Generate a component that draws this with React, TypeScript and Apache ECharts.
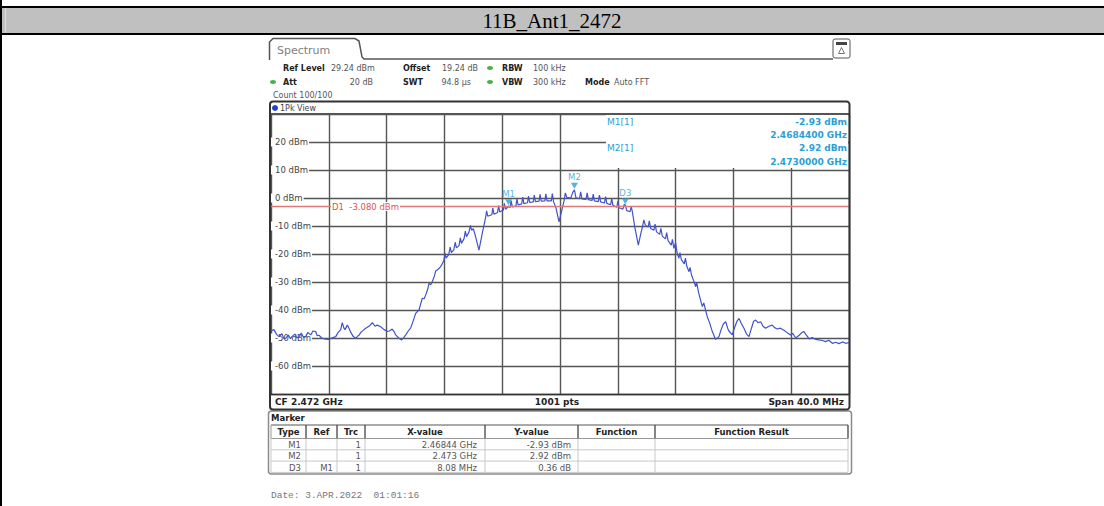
import React, { useEffect, useRef } from "react";
import * as echarts from "echarts";

// ---------- data ----------
const TITLE = "11B_Ant1_2472";
const CENTER_MHZ = 2472;
const SPAN_MHZ = 40;
const REF_TOP_DBM = 30;
const REF_BOTTOM_DBM = -70;
const Y_STEP_DBM = 10;
const X_STEP_MHZ = 4;
const DISPLAY_LINE_DBM = -3.08;
const DISPLAY_LINE_LABEL = "D1  -3.080 dBm";

// trace segments: [frequency MHz, level dBm]
const NOISE_LEFT: number[][] = [
  [2452.0, -47.5], [2452.2, -47.0], [2452.4, -48.8], [2452.55, -49.5], [2452.75, -48.5], [2452.9, -50.3],
  [2453.02, -50.1], [2453.2, -49.0], [2453.35, -50.2], [2453.45, -49.5], [2453.65, -48.6], [2453.8, -50.0],
  [2453.94, -49.6], [2454.1, -48.2], [2454.25, -49.8], [2454.4, -49.5], [2454.55, -48.0], [2454.75, -48.9],
  [2454.9, -47.5], [2455.09, -47.7], [2455.2, -49.2], [2455.32, -49.0], [2455.5, -50.0], [2455.79, -50.4],
  [2456.01, -50.5], [2456.2, -50.0], [2456.48, -49.5], [2456.65, -48.0], [2456.82, -47.1], [2456.93, -44.5],
  [2457.05, -46.5], [2457.12, -47.0], [2457.28, -45.4], [2457.4, -46.5], [2457.52, -48.0], [2457.7, -49.5],
  [2457.86, -50.1], [2458.0, -49.3], [2458.09, -49.0], [2458.25, -47.8], [2458.44, -47.0], [2458.66, -46.2],
  [2458.85, -45.5], [2459.01, -44.5], [2459.2, -45.8], [2459.36, -45.4], [2459.59, -46.0], [2459.82, -47.0],
  [2460.05, -47.6], [2460.2, -47.5], [2460.39, -46.8], [2460.55, -48.0], [2460.63, -48.9], [2460.86, -50.1],
  [2461.04, -50.7], [2461.2, -49.8], [2461.32, -48.9], [2461.5, -47.5], [2461.67, -46.4],
];
const RISING_EDGE: number[][] = [
  [2461.8, -44.5], [2461.9, -43.0], [2462.01, -41.2], [2462.24, -40.0], [2462.35, -38.0], [2462.47, -35.8],
  [2462.6, -36.0], [2462.71, -34.6], [2462.85, -32.5], [2462.93, -30.5], [2463.05, -31.0], [2463.16, -29.9],
  [2463.3, -28.0], [2463.4, -26.0], [2463.51, -25.7], [2463.62, -25.2], [2463.74, -24.5], [2463.85, -23.5],
  [2463.97, -22.2], [2464.05, -19.8], [2464.12, -21.5], [2464.3, -20.2], [2464.4, -17.5], [2464.48, -19.5],
  [2464.65, -18.5], [2464.75, -15.8], [2464.83, -17.8], [2465.01, -17.0], [2465.1, -14.2], [2465.18, -16.2],
  [2465.36, -14.5], [2465.45, -11.8], [2465.53, -13.8], [2465.7, -12.2], [2465.8, -9.8], [2465.88, -11.5],
  [2466.0, -11.0], [2466.12, -13.0], [2466.39, -18.6], [2466.55, -14.5],
];
const MAIN_LOBE: number[][] = [
  [2466.62, -12.6], [2466.85, -7.0], [2466.92, -4.6], [2467.0, -6.5], [2467.28, -6.0], [2467.35, -3.6],
  [2467.43, -5.8], [2467.68, -5.2], [2467.75, -2.7], [2467.83, -5.0], [2468.08, -4.3], [2468.15, -1.9],
  [2468.23, -4.0], [2468.44, -2.93], [2468.55, -3.4], [2468.62, -0.9], [2468.7, -3.2], [2468.95, -2.8],
  [2469.02, -0.3], [2469.1, -2.5], [2469.35, -2.1], [2469.42, 0.3], [2469.5, -2.0], [2469.75, -1.7],
  [2469.82, 0.7], [2469.9, -1.6], [2470.15, -1.4], [2470.22, 1.0], [2470.3, -1.3], [2470.55, -1.1],
  [2470.62, 1.3], [2470.7, -1.1], [2470.95, -1.0], [2471.02, 1.5], [2471.1, -1.0], [2471.4, -1.0],
  [2471.47, 1.6], [2471.55, -1.3], [2471.72, -3.5], [2471.93, -8.5], [2472.12, -4.5], [2472.28, -1.0],
  [2472.37, 1.8], [2472.47, 0.2], [2472.75, 0.0], [2472.88, 2.0], [2473.0, 2.92], [2473.1, 0.1],
  [2473.35, -0.2], [2473.43, 2.2], [2473.52, -0.3], [2473.8, -0.5], [2473.88, 1.8], [2473.96, -0.6],
  [2474.22, -0.9], [2474.3, 1.4], [2474.38, -1.0], [2474.65, -1.3], [2474.73, 1.0], [2474.81, -1.4],
  [2475.08, -1.8], [2475.16, 0.5], [2475.24, -1.9], [2475.5, -2.4], [2475.58, -0.2], [2475.66, -2.6],
  [2475.93, -3.3], [2476.01, -1.0], [2476.09, -3.5], [2476.35, -4.0], [2476.45, -2.2], [2476.52, -2.57],
  [2476.62, -4.5], [2476.85, -4.9], [2476.93, -3.0], [2477.01, -5.0], [2477.18, -10.5], [2477.42, -16.8],
  [2477.58, -13.0], [2477.72, -10.0], [2477.8, -7.8], [2477.9, -9.6], [2478.1, -10.4], [2478.18, -8.2],
  [2478.28, -10.9], [2478.5, -11.5], [2478.58, -9.3], [2478.68, -12.1], [2478.9, -13.0], [2478.98, -10.8],
  [2479.08, -13.6], [2479.3, -14.6], [2479.38, -12.4], [2479.48, -15.2], [2479.7, -16.8], [2479.78, -14.8],
  [2479.88, -18.0],
];
const FALLING_EDGE: number[][] = [
  [2480.0, -16.0], [2480.1, -19.5], [2480.23, -21.5], [2480.3, -19.5], [2480.4, -22.0], [2480.6, -23.5],
  [2480.68, -21.5], [2480.78, -24.5], [2480.93, -26.3], [2481.0, -24.8], [2481.1, -27.5], [2481.25, -29.5],
  [2481.39, -31.7], [2481.45, -30.0], [2481.6, -34.0], [2481.85, -38.8], [2481.95, -37.5], [2482.19, -42.4],
  [2482.35, -44.5], [2482.54, -47.7], [2482.77, -50.5],
];
const NOISE_RIGHT: number[][] = [
  [2483.0, -49.5], [2483.15, -47.0], [2483.3, -45.0], [2483.47, -44.2], [2483.6, -46.5], [2483.69, -47.5],
  [2483.92, -48.9], [2484.1, -46.0], [2484.25, -44.0], [2484.39, -43.0], [2484.55, -44.8], [2484.73, -46.5],
  [2484.9, -48.5], [2485.08, -49.5], [2485.25, -46.5], [2485.4, -44.0], [2485.54, -43.6], [2485.7, -44.5],
  [2485.89, -44.2], [2486.05, -45.8], [2486.23, -46.5], [2486.45, -45.8], [2486.69, -45.4], [2486.85, -46.3],
  [2487.04, -46.8], [2487.25, -46.5], [2487.5, -47.2], [2487.7, -48.0], [2487.96, -48.9], [2488.1, -48.3],
  [2488.31, -50.0], [2488.55, -49.0], [2488.75, -48.0], [2488.89, -47.7], [2489.05, -49.0], [2489.25, -50.3],
  [2489.46, -49.8], [2489.7, -50.5], [2489.92, -50.7], [2490.15, -50.9], [2490.39, -51.3], [2490.6, -50.8],
  [2490.85, -51.9], [2491.08, -51.5], [2491.3, -52.0], [2491.55, -51.4], [2491.77, -51.9], [2492.0, -51.6],
];

const MARKER_NAMES = ["M1", "M2", "D3"];
const MARKER_FREQ_MHZ = [2468.44, 2473.0, 2476.52];
const MARKER_LEVEL_DBM = [-2.93, 2.92, -2.57];

const HEADER_ROW1 = [
  ["Ref Level", "29.24 dBm"],
  ["Offset", "19.24 dB"],
  ["RBW", "100 kHz"],
];
const HEADER_ROW2 = [
  ["Att", "20 dB"],
  ["SWT", "94.8 µs"],
  ["VBW", "300 kHz"],
  ["Mode", "Auto FFT"],
];
const COUNT_TEXT = "Count 100/100";
const VIEW_TEXT = "1Pk View";
const INFO_LINES = [
  ["M1[1]", "-2.93 dBm"],
  ["", "2.4684400 GHz"],
  ["M2[1]", "2.92 dBm"],
  ["", "2.4730000 GHz"],
];
const FOOTER = ["CF 2.472 GHz", "1001 pts", "Span 40.0 MHz"];
const TABLE_HEADERS = ["Type", "Ref", "Trc", "X-value", "Y-value", "Function", "Function Result"];
const TABLE_ROWS = [
  ["M1", "", "1", "2.46844 GHz", "-2.93 dBm", "", ""],
  ["M2", "", "1", "2.473 GHz", "2.92 dBm", "", ""],
  ["D3", "M1", "1", "8.08 MHz", "0.36 dB", "", ""],
];
const DATE_TEXT = "Date: 3.APR.2022  01:01:16";

// ---------- layout ----------
const FONT = '"DejaVu Sans", sans-serif';
const MARK_COLOR = "#2a9fd6";
const TRACE_COLOR = "#4153cc";

function txt(x: number, y: number, text: string, o: any = {}) {
  return {
    type: "text",
    x,
    y,
    z: o.z ?? 30,
    silent: true,
    style: {
      text,
      fill: o.fill ?? "#555",
      font: `${o.bold ? "bold " : ""}${o.size ?? 8.5}px ${o.family ?? FONT}`,
      align: o.align ?? "left",
      verticalAlign: "middle",
    },
  };
}
function rect(x: number, y: number, w: number, h: number, style: any, z = 1, r: any = 0) {
  return { type: "rect", silent: true, z, shape: { x, y, width: w, height: h, r }, style };
}
function hline(x1: number, x2: number, y: number, stroke: string, lw = 1, z = 25) {
  return { type: "line", silent: true, z, shape: { x1, y1: y, x2, y2: y }, style: { stroke, lineWidth: lw } };
}
function vline(x: number, y1: number, y2: number, stroke: string, lw = 1, z = 25) {
  return { type: "line", silent: true, z, shape: { x1: x, y1, x2: x, y2 }, style: { stroke, lineWidth: lw } };
}

export default function App() {
  const ref = useRef<HTMLDivElement>(null);
  useEffect(() => {
    if (!ref.current) return;
    const chart = echarts.init(ref.current, null, { renderer: "svg" });
    const trace = [...NOISE_LEFT, ...RISING_EDGE, ...MAIN_LOBE, ...FALLING_EDGE, ...NOISE_RIGHT];
    const markers = MARKER_NAMES.map((n, i) => ({ name: n, value: [MARKER_FREQ_MHZ[i], MARKER_LEVEL_DBM[i]] }));

    const g: any[] = [];
    // document table
    g.push(rect(0, 0, 2, 506, { fill: "#000" }, 1));
    g.push(rect(0, 6, 1104, 2, { fill: "#000" }, 1));
    g.push(rect(2, 8, 1102, 25, { fill: "#c0c0c0" }, 1));
    g.push(rect(5, 8, 1, 25, { fill: "#dcdcdc" }, 2));
    g.push(rect(0, 33, 1104, 2, { fill: "#000" }, 1));
    g.push(txt(552, 21, TITLE, { size: 21, family: '"Liberation Serif", serif', fill: "#000", z: 3, align: "center" }));

    // spectrum tab
    g.push({
      type: "polyline", silent: true, z: 25,
      shape: { points: [[269.5, 60], [269.5, 42], [273, 38.5], [355, 38.5], [359, 41], [362, 57], [364, 59], [833, 59]] },
      style: { stroke: "#555", lineWidth: 1.5, fill: null },
    });
    g.push(txt(277, 50, "Spectrum", { size: 11, fill: "#808080" }));
    g.push(rect(833, 39, 17, 19, { fill: "#fff", stroke: "#555", lineWidth: 1 }, 25, 2));
    g.push(rect(836, 42, 11, 3, { fill: "#444" }, 26));
    g.push({
      type: "polygon", silent: true, z: 26,
      shape: { points: [[841.5, 47.5], [838.5, 53.5], [844.5, 53.5]] },
      style: { stroke: "#555", lineWidth: 0.8, fill: "#fff" },
    });

    // header settings
    const r1x = [[283, 331], [403, 442], [502, 533]];
    HEADER_ROW1.forEach((p, i) => {
      g.push(txt(r1x[i][0], 68, p[0], { bold: true, size: 8, fill: "#222" }));
      g.push(txt(r1x[i][1], 68, p[1], { size: 8 }));
    });
    const r2x = [[283, 373], [403, 471], [502, 533], [585, 614]];
    HEADER_ROW2.forEach((p, i) => {
      g.push(txt(r2x[i][0], 82, p[0], { bold: true, size: 8, fill: "#222" }));
      g.push(txt(r2x[i][1], 82, p[1], { size: 8, align: i < 2 ? "right" : "left" }));
    });
    [[490, 68], [490, 82], [273, 82]].forEach(([cx, cy]) =>
      g.push({ type: "ellipse", silent: true, z: 25, shape: { cx, cy, rx: 3, ry: 2 }, style: { fill: "#48b048" } })
    );
    g.push(txt(273, 95, COUNT_TEXT, { size: 8 }));

    // view frame
    g.push(rect(270, 101.5, 579.5, 308, { fill: null, stroke: "#333", lineWidth: 2 }, 40, 3));
    g.push(hline(270, 849, 113.5, "#555", 1));
    g.push({ type: "circle", silent: true, z: 30, shape: { cx: 275, cy: 108, r: 3 }, style: { fill: "#2040d0" } });
    g.push(txt(280, 108, VIEW_TEXT, { fill: "#444", size: 8 }));
    g.push(hline(270, 849, 394.5, "#333", 1.5));
    g.push(txt(275, 402, FOOTER[0], { bold: true, size: 9, fill: "#222" }));
    g.push(txt(557, 402, FOOTER[1], { bold: true, size: 9, fill: "#222", align: "center" }));
    g.push(txt(844, 402, FOOTER[2], { bold: true, size: 9, fill: "#222", align: "right" }));

    // marker info box
    g.push(rect(606, 115, 242, 53, { fill: "#fff" }, 10));
    INFO_LINES.forEach((l, i) => {
      const y = 122 + i * 13.2;
      if (l[0]) g.push(txt(607, y, l[0], { fill: MARK_COLOR, size: 9 }));
      g.push(txt(847, y, l[1], { fill: MARK_COLOR, size: 9, bold: true, align: "right" }));
    });

    // marker table
    g.push(rect(268.5, 411, 583, 63, { fill: "#fff", stroke: "#8a8a8a", lineWidth: 1.5 }, 5, 3));
    g.push(txt(271, 418, "Marker", { bold: true, size: 8.5, fill: "#222" }));
    const cols = [271, 306, 337, 365, 485, 578, 655, 848];
    g.push(hline(271, 848, 425, "#555", 1));
    g.push(hline(271, 848, 438.5, "#999", 1));
    cols.forEach((cx, i) => {
      g.push(vline(cx, 425, 438.5, i === 0 ? "#999" : "#444", i === 0 ? 1 : 1.3));
      g.push(vline(cx, 438.5, 472.5, "#c8c8c8", 1));
    });
    TABLE_HEADERS.forEach((h, i) => {
      g.push(txt((cols[i] + cols[i + 1]) / 2, 432, h, { bold: true, size: 8.5, fill: "#222", align: "center" }));
    });
    const rightAlign = [301, 333, 361, 477, 571, 650, 843];
    TABLE_ROWS.forEach((row, r) => {
      const y = 445 + r * 11.3;
      g.push(hline(271, 848, 438.5 + (r + 1) * 11.3, "#c8c8c8", 1));
      row.forEach((c, i) => {
        if (c) g.push(txt(rightAlign[i], y, c, { align: "right", size: 8.5 }));
      });
    });
    g.push(txt(271, 495, DATE_TEXT, { family: '"Liberation Mono", monospace', size: 9.5, fill: "#777" }));

    chart.setOption({
      animation: false,
      backgroundColor: "#fff",
      textStyle: { fontFamily: FONT },
      grid: { left: 271, top: 114, width: 578, height: 280, containLabel: false, outerBoundsMode: "none" },
      xAxis: {
        type: "value",
        min: CENTER_MHZ - SPAN_MHZ / 2,
        max: CENTER_MHZ + SPAN_MHZ / 2,
        interval: X_STEP_MHZ,
        axisLine: { show: false },
        axisTick: { show: false },
        axisLabel: { show: false },
        splitLine: { show: true, lineStyle: { color: "#555", width: 1.4 } },
      },
      yAxis: {
        type: "value",
        min: REF_BOTTOM_DBM,
        max: REF_TOP_DBM,
        interval: Y_STEP_DBM,
        axisLine: { show: false },
        axisTick: { show: false },
        axisLabel: {
          inside: true,
          margin: 0,
          fontSize: 8.5,
          color: "#444",
          backgroundColor: "#fff",
          padding: [0, 1, 0, 4],
          formatter: (v: number) => (v >= REF_TOP_DBM || v <= REF_BOTTOM_DBM ? "" : `${v} dBm`),
        },
        splitLine: { show: true, lineStyle: { color: "#555", width: 1.4 } },
      },
      series: [
        {
          type: "line",
          data: trace,
          showSymbol: false,
          z: 3,
          lineStyle: { color: TRACE_COLOR, width: 1.2 },
          markLine: {
            silent: true,
            symbol: ["none", "none"],
            lineStyle: { color: "#e07a7a", width: 1.3, type: "solid" },
            label: {
              show: true,
              position: "insideStart",
              distance: [60, 0],
              formatter: DISPLAY_LINE_LABEL,
              color: "#e05050",
              fontSize: 8.5,
              backgroundColor: "#fff",
              padding: [0, 1],
            },
            data: [{ yAxis: DISPLAY_LINE_DBM }],
          },
        },
        {
          type: "scatter",
          data: markers,
          symbol: "triangle",
          symbolRotate: 180,
          symbolSize: [7, 6],
          symbolOffset: [0, -4],
          z: 5,
          itemStyle: { color: MARK_COLOR },
          label: {
            show: true,
            position: "top",
            distance: 1,
            formatter: (p: any) => p.name,
            color: MARK_COLOR,
            fontSize: 8.5,
          },
        },
      ],
      graphic: { elements: g },
    });
    return () => chart.dispose();
  }, []);
  return <div ref={ref} style={{ position: "absolute", left: 0, top: 0, width: 1104, height: 506, background: "#fff" }} />;
}
